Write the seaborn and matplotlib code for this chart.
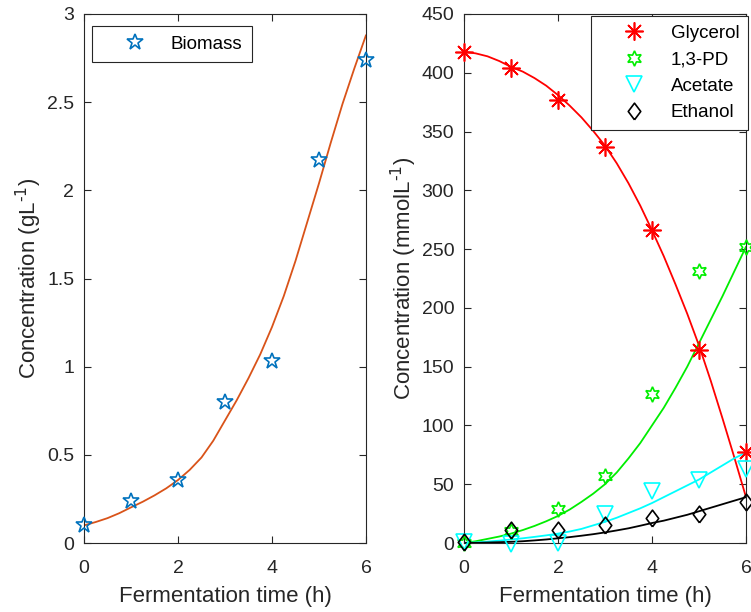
import numpy as np
import pandas as pd
import matplotlib
matplotlib.use("Agg")
import matplotlib.pyplot as plt
import seaborn as sns

sns.set_style("ticks")
plt.rcParams['font.family'] = ['Liberation Sans', 'DejaVu Sans']

# measured points
t = [0, 1, 2, 3, 4, 5, 6]
biomass = [0.10, 0.24, 0.36, 0.80, 1.03, 2.17, 2.74]
glycerol = [418, 404, 377, 337, 266, 164, 77]
pd13 = [0, 10, 29, 57, 127, 231, 252]
acetate = [1, -1, 0, 25, 44, 54, 63]
ethanol = [1, 11, 11, 15, 21, 25, 35]

# fitted model curves
t_fit = [0, 0.25, 0.5, 0.75, 1, 1.25, 1.5, 1.75, 2, 2.25, 2.5, 2.75, 3,
         3.25, 3.5, 3.75, 4, 4.25, 4.5, 4.75, 5, 5.25, 5.5, 5.75, 6]
biomass_fit = [0.10, 0.119, 0.141, 0.169, 0.202, 0.234, 0.270, 0.31, 0.357, 0.415, 0.485, 0.58, 0.695,
               0.81, 0.935, 1.07, 1.225, 1.40, 1.60, 1.82, 2.04, 2.27, 2.49, 2.69, 2.88]
glycerol_fit = [418, 416.5, 414, 410, 405, 401, 395.5, 389, 381, 372, 362, 350.5, 338,
                323, 306, 287, 266, 244, 220, 195, 168, 138, 106, 73, 39]
pd13_fit = [0, 1.5, 3.5, 5.5, 8, 11, 14.5, 18.5, 23, 28.5, 35, 42, 50,
            60, 72, 85, 100, 115, 132, 150, 170, 190, 210, 231, 252]
acetate_fit = [0, 0.5, 1.2, 2, 3, 4, 5.2, 6.5, 8, 9.8, 12, 15, 18,
               21.5, 25.5, 29.5, 34, 39, 44, 49, 54, 60, 66, 72, 77]
ethanol_fit = [0, 0.1, 0.4, 0.7, 1, 1.5, 2.2, 3, 4, 5, 6.2, 7.5, 9,
               10.7, 12.5, 14.7, 17, 19, 21.5, 24, 27, 30, 33, 36, 39]

txt = '#262626'
fig = plt.figure(figsize=(7.51, 6.12), dpi=100)
ax1 = fig.add_axes([84/751, 69/612, 282/751, 529/612])
ax2 = fig.add_axes([464/751, 69/612, 282/751, 529/612])

diamond = [(0, -1), (0.75, 0), (0, 1), (-0.75, 0), (0, -1)]

# left panel
ax1.plot(t, biomass, linestyle='none', marker='*', markersize=12, mfc='none',
         mec='#0072BD', mew=1.2, label='Biomass', clip_on=False, zorder=3)
sns.lineplot(x=t_fit, y=biomass_fit, ax=ax1, color='#D95319', lw=1.3, legend=False)
ax1.set_ylim(0, 3)
ax1.set_yticks([0, 0.5, 1, 1.5, 2, 2.5, 3])
ax1.set_yticklabels(['0', '0.5', '1', '1.5', '2', '2.5', '3'])
ax1.set_ylabel(r'Concentration (gL$^{\text{-1}}$)', fontsize=16, color=txt, labelpad=2)
leg1 = ax1.legend(loc='upper left', bbox_to_anchor=(0.028, 0.977), fontsize=13.5,
                  handletextpad=0.1, borderpad=0.5, handlelength=3.6, borderaxespad=0)

# right panel
series = [
    (glycerol, glycerol_fit, 'Glycerol', '#FF0000', (8, 2, 0), 13),
    (pd13, pd13_fit, '1,3-PD', '#00EE00', (6, 1, 0), 11),
    (acetate, acetate_fit, 'Acetate', '#00FFFF', 'v', 11),
    (ethanol, ethanol_fit, 'Ethanol', '#000000', diamond, 12),
]
for pts, fit, name, col, mk, ms in series:
    sns.lineplot(x=t_fit, y=fit, ax=ax2, color=col, lw=1.3, legend=False)
for pts, fit, name, col, mk, ms in series:
    ax2.plot(t, pts, linestyle='none', marker=mk, markersize=ms, mfc='none',
             mec=col, mew=1.2, label=name, clip_on=False, zorder=3)
ax2.set_ylim(0, 450)
ax2.set_yticks(range(0, 451, 50))
ax2.set_ylabel(r'Concentration (mmolL$^{\text{-1}}$)', fontsize=16, color=txt, labelpad=2)
leg2 = ax2.legend(loc='upper right', bbox_to_anchor=(1.007, 0.996), fontsize=13.5,
                  handletextpad=0.1, borderpad=0.45, handlelength=3.7, labelspacing=0.5,
                  borderaxespad=0)

for ax, leg in [(ax1, leg1), (ax2, leg2)]:
    ax.set_xlim(0, 6)
    ax.set_xticks([0, 2, 4, 6])
    ax.set_xlabel('Fermentation time (h)', fontsize=16, color=txt, labelpad=7)
    ax.tick_params(direction='in', top=True, right=True, labelsize=14,
                   colors=txt, length=5, width=0.8)
    ax.tick_params(axis='x', pad=12)
    ax.tick_params(axis='y', pad=7)
    for s in ax.spines.values():
        s.set_visible(True)
        s.set_color(txt)
        s.set_linewidth(0.8)
    fr = leg.get_frame()
    fr.set_boxstyle('square', pad=0)
    fr.set_edgecolor(txt)
    fr.set_linewidth(0.8)
    fr.set_alpha(1)
    for tx in leg.get_texts():
        tx.set_color('#000000')

fig.savefig('out.png', dpi=100)
